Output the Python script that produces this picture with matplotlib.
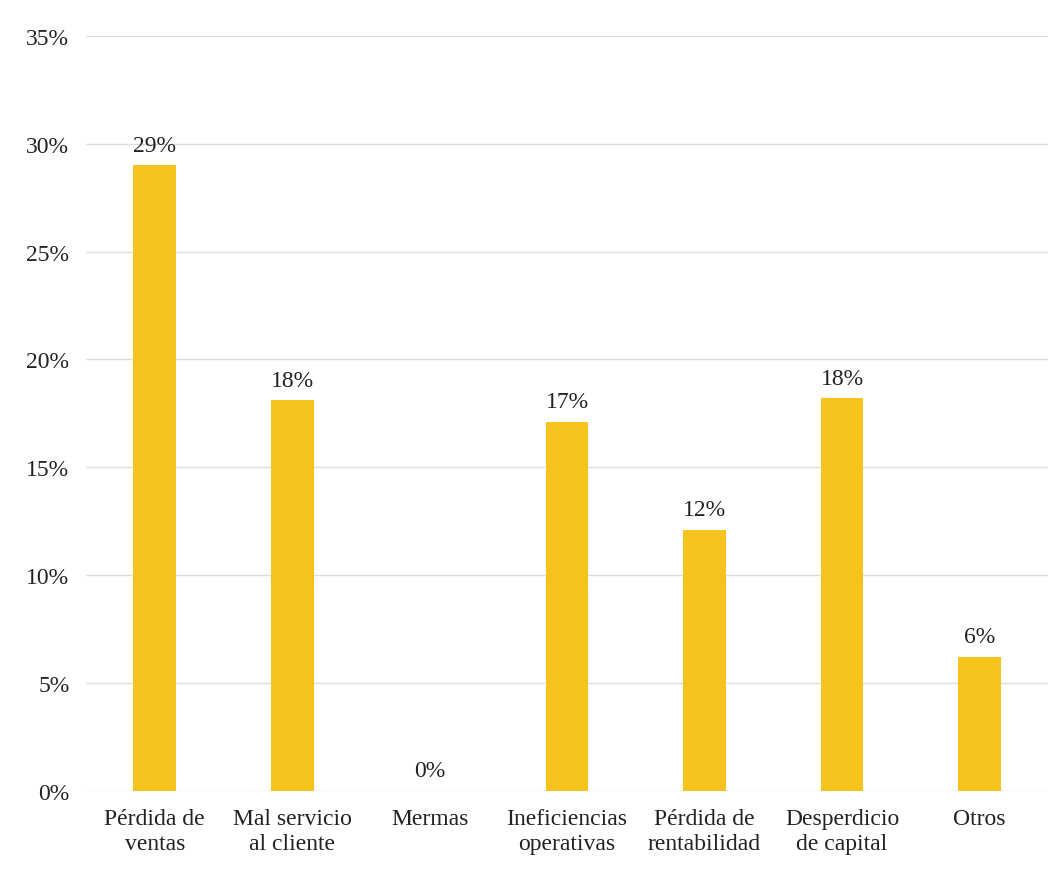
import matplotlib
matplotlib.use("Agg")
import matplotlib.pyplot as plt

plt.rcParams['font.family'] = ['Liberation Serif', 'DejaVu Serif']

categories = ["Pérdida de\nventas", "Mal servicio\nal cliente", "Mermas",
              "Ineficiencias\noperativas", "Pérdida de\nrentabilidad",
              "Desperdicio\nde capital", "Otros"]
values = [29.0, 18.1, 0.0, 17.1, 12.1, 18.2, 6.2]
labels = ["29%", "18%", "0%", "17%", "12%", "18%", "6%"]
yticks = [0, 5, 10, 15, 20, 25, 30, 35]

fig = plt.figure(figsize=(10.62, 8.7), dpi=100)
ax = fig.add_axes([0.081, 0.0897, 0.906, 0.868])

x = list(range(len(categories)))
bars = ax.bar(x, values, width=0.31, color="#F6C21C", zorder=2)
for b, lab in zip(bars, labels):
    ax.annotate(lab, (b.get_x() + b.get_width() / 2, b.get_height()),
                xytext=(0, 7), textcoords="offset points",
                ha="center", va="bottom", fontsize=17, color="#222222")

ax.set_xlim(-0.5, len(categories) - 0.5)
ax.set_ylim(0, 35)
ax.set_yticks(yticks)
ax.set_yticklabels([f"{t}%" for t in yticks])
ax.set_xticks(x)
ax.set_xticklabels(categories, linespacing=1.3)
ax.tick_params(axis="both", length=0, labelsize=17, colors="#222222")
ax.tick_params(axis="y", pad=12)
ax.tick_params(axis="x", pad=12)
ax.grid(axis="y", color="#dddddd", linewidth=1, zorder=0)
for s in ax.spines.values():
    s.set_visible(False)

fig.savefig("out.png", dpi=100)
